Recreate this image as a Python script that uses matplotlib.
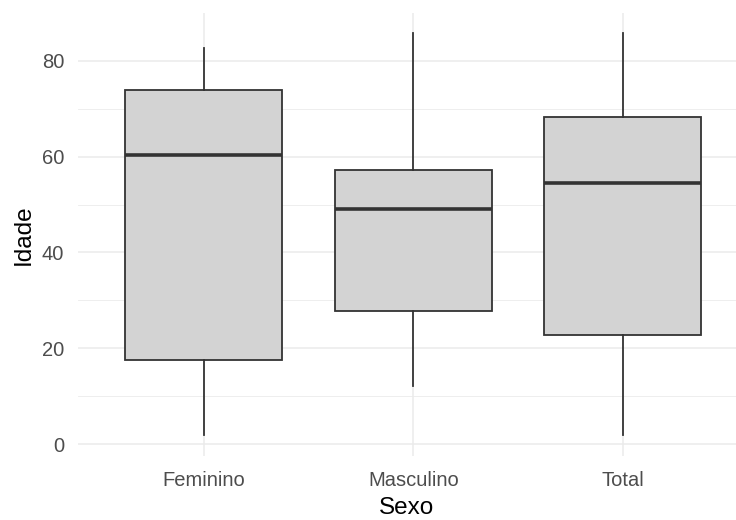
import matplotlib
matplotlib.use("Agg")
import matplotlib.pyplot as plt

plt.rcParams['font.family'] = ['Liberation Sans', 'DejaVu Sans']

categorias = ["Feminino", "Masculino", "Total"]
# whisker low, Q1, median, Q3, whisker high
wlo = [2, 12.2, 2]
q1 = [17.5, 27.9, 22.9]
med = [60.3, 49.0, 54.4]
q3 = [73.8, 57.1, 68.3]
whi = [82.7, 85.75, 85.75]

stats = []
for i, nome in enumerate(categorias):
    stats.append({"label": nome, "whislo": wlo[i], "q1": q1[i], "med": med[i],
                  "q3": q3[i], "whishi": whi[i], "fliers": []})

fig = plt.figure(figsize=(7.36, 5.2), dpi=100)
ax = fig.add_axes([0.106, 0.124, 0.894, 0.851])

pos = [1, 2, 3]
ax.bxp(stats, positions=pos, widths=0.75, patch_artist=True, showcaps=False,
       boxprops=dict(facecolor="#D3D3D3", edgecolor="#333333", linewidth=1.3),
       medianprops=dict(color="#333333", linewidth=2.6, solid_capstyle="butt"),
       whiskerprops=dict(color="#333333", linewidth=1.3))

ax.set_xlim(0.4, 3.54)
ax.set_ylim(-2.3, 89.9)
ax.set_yticks([0, 20, 40, 60, 80])
ax.set_yticks([10, 30, 50, 70], minor=True)
ax.set_xticks(pos)
ax.set_xticklabels(categorias)

ax.grid(True, which="major", color="#EBEBEB", linewidth=1.1)
ax.grid(True, which="minor", axis="y", color="#EBEBEB", linewidth=0.6)
ax.set_axisbelow(True)
for s in ax.spines.values():
    s.set_visible(False)
ax.tick_params(which="both", length=0, colors="#4D4D4D", labelsize=14.5)
ax.tick_params(axis="y", pad=10)
ax.tick_params(axis="x", pad=11)

ax.set_xlabel("Sexo", fontsize=17.5, color="black", labelpad=5)
ax.set_ylabel("Idade", fontsize=17.5, color="black", labelpad=5)

fig.savefig("out.png", dpi=100)
